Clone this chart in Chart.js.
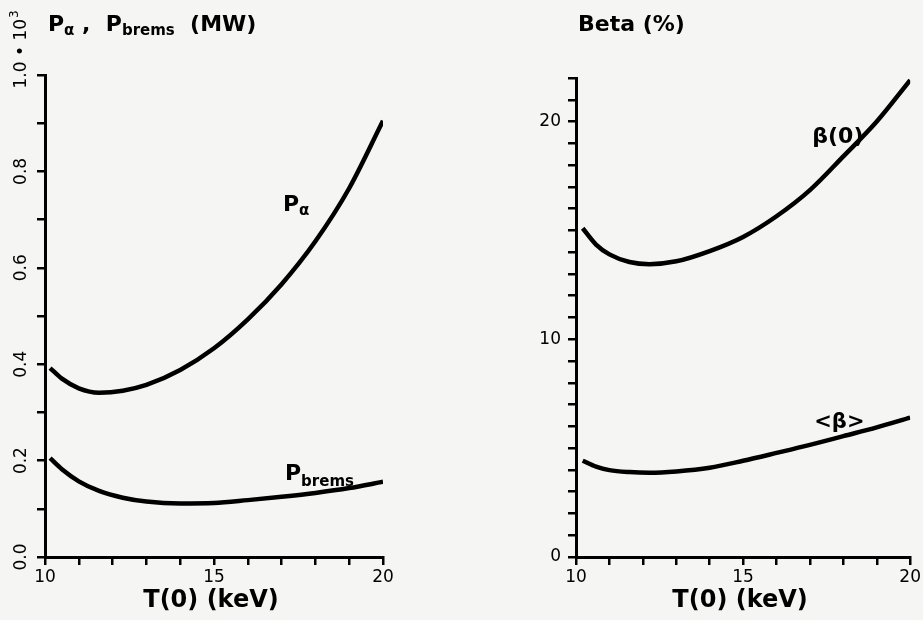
<!DOCTYPE html>
<html>
<head>
<meta charset="utf-8">
<script src="https://cdn.jsdelivr.net/npm/chart.js@4.4.0/dist/chart.umd.min.js"></script>
<style>
  body { margin: 0; background: #f5f5f3; width: 923px; height: 620px; overflow: hidden; position: relative; }
  canvas { position: absolute; top: 0; }
  #powerChart { left: 0; }
  #betaChart { left: 461px; }
</style>
</head>
<body>
<canvas id="powerChart" width="461" height="620"></canvas>
<canvas id="betaChart" width="462" height="620"></canvas>
<script>
// values
let tempPower = [10.15, 10.5, 11, 11.6, 12.3, 13, 14, 15, 16, 17, 18, 19, 20];
let pAlpha = [0.392, 0.37, 0.35, 0.341, 0.345, 0.357, 0.388, 0.433, 0.493, 0.566, 0.655, 0.765, 0.905];
let pBrems = [0.205, 0.182, 0.157, 0.137, 0.123, 0.115, 0.111, 0.112, 0.118, 0.125, 0.133, 0.143, 0.156];

let tempBeta = [10.2, 10.6, 11, 11.6, 12.2, 13, 14, 15, 16, 17, 18, 19, 20];
let betaCentre = [15.1, 14.35, 13.9, 13.55, 13.45, 13.58, 14.05, 14.7, 15.65, 16.85, 18.4, 20.0, 21.9];
let betaAvg = [4.42, 4.15, 3.99, 3.9, 3.87, 3.93, 4.1, 4.42, 4.78, 5.15, 5.55, 5.95, 6.4];

let xTickLabels = [10, 15, 20];
let powerTickLabels = [0.0, 0.2, 0.4, 0.6, 0.8, 1.0];
let betaTickLabels = [0, 10, 20];

const FONT = "DejaVu Sans";

function toPoints(xs, ys) {
  return xs.map((x, i) => ({ x: x, y: ys[i] }));
}

function curve(data) {
  return {
    data: data,
    borderColor: "#000",
    borderWidth: 4.5,
    pointRadius: 0,
    cubicInterpolationMode: "monotone",
    fill: false
  };
}

// text made of pieces: [text, size, baseline shift]
function drawPieces(ctx, pieces, x, y) {
  pieces.forEach((p) => {
    ctx.font = "bold " + p[1] + "px '" + FONT + "'";
    ctx.fillText(p[0], x, y + (p[2] || 0));
    x += ctx.measureText(p[0]).width;
  });
  return x;
}

function xAxis() {
  return {
    type: "linear",
    min: 10,
    max: 20,
    ticks: {
      stepSize: 1,
      autoSkip: false,
      maxRotation: 0,
      color: "#000",
      padding: 2,
      font: { family: FONT, size: 17 },
      callback: (v) => xTickLabels.includes(v) ? String(v) : ""
    },
    grid: { drawOnChartArea: false, color: "#000", lineWidth: 2.5, tickLength: 8 },
    border: { color: "#000", width: 3 },
    afterFit: (s) => { s.height = 63; }
  };
}

const paperText = {
  id: "paperText",
  afterDraw(chart, args, opts) {
    const ctx = chart.ctx;
    const area = chart.chartArea;
    const xs = chart.scales.x, ys = chart.scales.y;
    ctx.save();
    ctx.fillStyle = "#000";
    ctx.textBaseline = "alphabetic";
    ctx.textAlign = "left";

    // axis title on top
    drawPieces(ctx, opts.title, opts.titleX, 31);

    // x axis title
    ctx.font = "bold 24px '" + FONT + "'";
    ctx.textAlign = "center";
    ctx.fillText("T(0) (keV)", (area.left + area.right) / 2 - 3, 607);
    ctx.textAlign = "left";

    // labels next to the curves
    opts.labels.forEach((l) => {
      drawPieces(ctx, l.pieces, xs.getPixelForValue(l.x), ys.getPixelForValue(l.y));
    });

    // rotated tick labels for the power axis
    if (opts.rotatedTicks) {
      ctx.font = "17px '" + FONT + "'";
      ctx.textAlign = "center";
      ctx.textBaseline = "middle";
      powerTickLabels.forEach((v) => {
        ctx.save();
        ctx.translate(22, ys.getPixelForValue(v));
        ctx.rotate(-Math.PI / 2);
        ctx.fillText(v.toFixed(1), 0, 0);
        ctx.restore();
      });
      ctx.save();
      ctx.translate(22, 56);
      ctx.rotate(-Math.PI / 2);
      ctx.textAlign = "left";
      ctx.font = "17px '" + FONT + "'";
      ctx.fillText("\u2022 10", 0, 0);
      let w = ctx.measureText("\u2022 10").width;
      ctx.font = "12px '" + FONT + "'";
      ctx.fillText("3", w + 1, -7);
      ctx.restore();
    }
    ctx.restore();
  }
};

new Chart(document.getElementById("powerChart"), {
  type: "line",
  data: {
    datasets: [
      curve(toPoints(tempPower, pAlpha)),
      curve(toPoints(tempPower, pBrems))
    ]
  },
  options: {
    responsive: false,
    animation: false,
    layout: { padding: { top: 75, right: 78, bottom: 0, left: 0 } },
    plugins: {
      legend: { display: false },
      tooltip: { enabled: false },
      paperText: {
        title: [["P", 22], ["\u03b1", 15, 4], [" ,  P", 22], ["brems", 15, 4], ["  (MW)", 22]],
        titleX: 48,
        rotatedTicks: true,
        labels: [
          { x: 17.04, y: 0.718, pieces: [["P", 22], ["\u03b1", 15, 4]] },
          { x: 17.1, y: 0.16, pieces: [["P", 22], ["brems", 15, 6]] }
        ]
      }
    },
    scales: {
      x: xAxis(),
      y: {
        type: "linear",
        min: 0,
        max: 1.0,
        ticks: { stepSize: 0.1, autoSkip: false, callback: () => "" },
        grid: { drawOnChartArea: false, color: "#000", lineWidth: 2.5, tickLength: 8 },
        border: { color: "#000", width: 3 },
        afterFit: (s) => { s.width = 45; }
      }
    }
  },
  plugins: [paperText]
});

new Chart(document.getElementById("betaChart"), {
  type: "line",
  data: {
    datasets: [
      curve(toPoints(tempBeta, betaCentre)),
      curve(toPoints(tempBeta, betaAvg))
    ]
  },
  options: {
    responsive: false,
    animation: false,
    layout: { padding: { top: 78, right: 9, bottom: 0, left: 0 } },
    plugins: {
      legend: { display: false },
      tooltip: { enabled: false },
      paperText: {
        title: [["Beta (%)", 22]],
        titleX: 117,
        rotatedTicks: false,
        labels: [
          { x: 17.07, y: 19.0, pieces: [["\u03b2(0)", 22]] },
          { x: 17.13, y: 5.92, pieces: [["<\u03b2>", 21]] }
        ]
      }
    },
    scales: {
      x: xAxis(),
      y: {
        type: "linear",
        min: 0,
        max: 22,
        ticks: {
          stepSize: 1,
          autoSkip: false,
          color: "#000",
          padding: 7,
          font: { family: FONT, size: 17 },
          callback: (v) => betaTickLabels.includes(v) ? String(v) : ""
        },
        grid: { drawOnChartArea: false, color: "#000", lineWidth: 2.5, tickLength: 8 },
        border: { color: "#000", width: 3 },
        afterFit: (s) => { s.width = 115; }
      }
    }
  },
  plugins: [paperText]
});
</script>
</body>
</html>
